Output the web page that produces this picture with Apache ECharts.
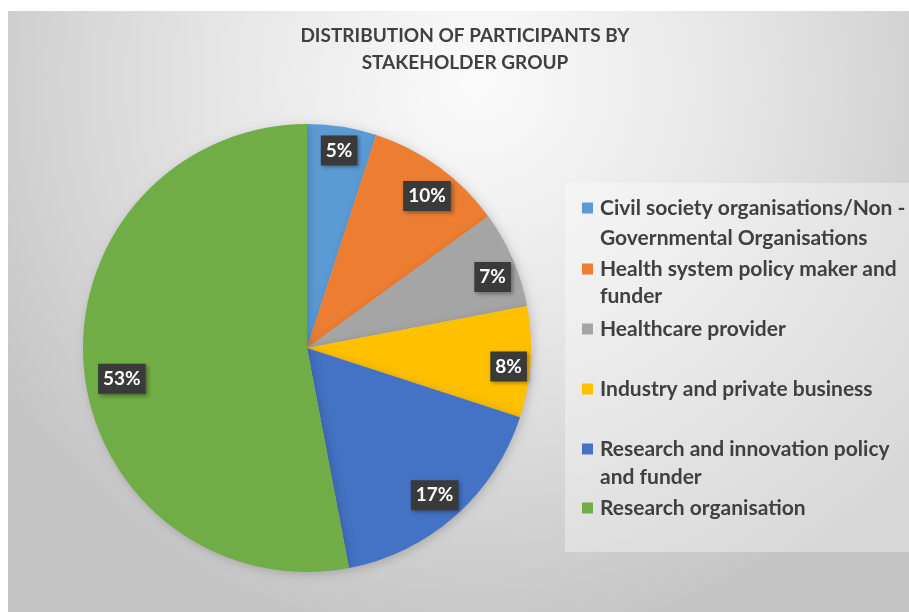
<!DOCTYPE html>
<html>
<head>
<meta charset="utf-8">
<script src="https://cdn.jsdelivr.net/npm/echarts@6/dist/echarts.min.js"></script>
<style>
  html, body { margin: 0; padding: 0; background: #ffffff; }
  #chart { width: 909px; height: 612px; }
</style>
</head>
<body>
<div id="chart"></div>
<script>
// ---- data ----
const categories = [
  "Civil society organisations/Non - Governmental Organisations",
  "Health system policy maker and funder",
  "Healthcare provider",
  "Industry and private business",
  "Research and innovation policy and funder",
  "Research organisation"
];
const values = [5, 10, 7, 8, 17, 53];
const legendLines = [
  ["Civil society organisations/Non -", "Governmental Organisations"],
  ["Health system policy maker and", "funder"],
  ["Healthcare provider"],
  ["Industry and private business"],
  ["Research and innovation policy", "and funder"],
  ["Research organisation"]
];
const titleText = "DISTRIBUTION OF PARTICIPANTS BY\nSTAKEHOLDER GROUP";

// ---- styling / layout ----
const colors = ["#5B9BD5", "#ED7D31", "#A5A5A5", "#FFC000", "#4472C4", "#70AD47"];
const FONT = "Lato";
const legendLineCenters = [[208, 238], [269, 296], [329], [389], [449, 477], [508]];
const labelOffsets = [[1, -1], [3, 9], [3, 8], [3, 6], [-4, -2], [13, 12]];

const pieData = categories.map((c, i) => ({ name: c, value: values[i] }));
const labelData = categories.map((c, i) => ({
  name: c, value: values[i], label: { offset: labelOffsets[i] }
}));

const legends = [];
legendLines.forEach((lines, i) => {
  lines.forEach((line, j) => {
    legends.push({
      data: [categories[i]],
      left: 582,
      top: legendLineCenters[i][j] - 12,
      padding: 0,
      itemWidth: 11,
      itemHeight: 11,
      icon: j === 0 ? 'rect' : 'none',
      formatter: () => line,
      textStyle: {
        fontFamily: FONT, fontWeight: 'bold', fontSize: 21, color: '#404040',
        lineHeight: 24, padding: [0, 0, 0, 2]
      }
    });
  });
});

const chart = echarts.init(document.getElementById('chart'), null, { renderer: 'canvas' });
chart.setOption({
  backgroundColor: '#ffffff',
  color: colors,
  animation: false,
  graphic: [
    {
      type: 'rect', z: -10, silent: true,
      shape: { x: 8, y: 11, width: 901, height: 601 },
      style: {
        fill: {
          type: 'radial', x: 0.52, y: 0.12, r: 0.95,
          colorStops: [
            { offset: 0, color: '#fbfbfb' },
            { offset: 0.45, color: '#e6e6e6' },
            { offset: 1, color: '#c4c4c4' }
          ]
        }
      }
    },
    {
      type: 'rect', z: -9, silent: true,
      shape: { x: 565, y: 183, width: 344, height: 369 },
      style: { fill: 'rgba(255,255,255,0.35)' }
    }
  ],
  title: {
    text: titleText,
    left: 460,
    top: 17,
    textAlign: 'center',
    textStyle: {
      fontFamily: FONT, fontWeight: 'bold', fontSize: 19, color: '#404040', lineHeight: 27
    }
  },
  legend: legends,
  series: [
    {
      type: 'pie',
      center: [307, 348],
      radius: [0, 224],
      startAngle: 90,
      clockwise: true,
      data: pieData,
      label: { show: false },
      labelLine: { show: false },
      emphasis: { disabled: true },
      itemStyle: {
        shadowBlur: 10,
        shadowColor: 'rgba(0,0,0,0.18)',
        shadowOffsetX: 2,
        shadowOffsetY: 2
      }
    },
    {
      type: 'pie',
      center: [307, 348],
      radius: [168, 224],
      startAngle: 90,
      clockwise: true,
      silent: true,
      data: labelData,
      itemStyle: { color: 'rgba(0,0,0,0)' },
      emphasis: { disabled: true },
      labelLine: { show: false },
      label: {
        show: true,
        position: 'inside',
        formatter: '{c}%',
        fontFamily: FONT,
        fontWeight: 'bold',
        fontSize: 19,
        color: '#ffffff',
        backgroundColor: '#3a3a3a',
        padding: [6, 5, 5, 5],
        shadowBlur: 4,
        shadowColor: 'rgba(0,0,0,0.35)',
        shadowOffsetX: 2,
        shadowOffsetY: 2
      }
    }
  ]
});
</script>
</body>
</html>
